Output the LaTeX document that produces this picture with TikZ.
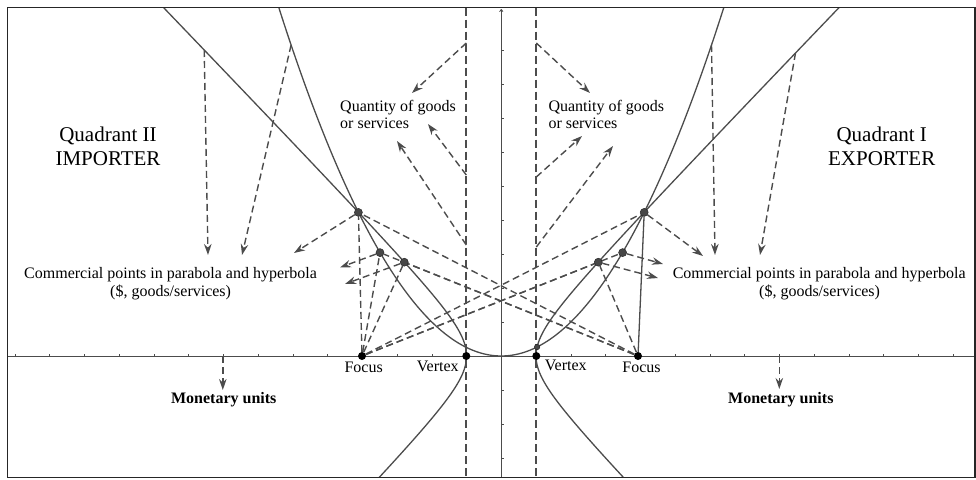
\documentclass[tikz,border=0pt]{standalone}
\usepackage{fontspec}
\setmainfont{Liberation Serif}
\usetikzlibrary{arrows.meta}
\pgfdeclarelayer{bg}
\pgfsetlayers{bg,main}
\colorlet{ink}{black!70}
\begin{document}
\begin{tikzpicture}[x=1pt,y=-1pt,
  curve/.style={draw=ink, line width=1.3pt},
  dl/.style={draw=ink, line width=1.4pt, dash pattern=on 7pt off 4pt},
  da/.style={dl, -{Stealth[length=11pt,width=7.5pt]}},
  vdash/.style={draw=ink, line width=1.8pt, dash pattern=on 8pt off 4pt},
  dot/.style={circle, fill=black!72, draw=black!85, line width=0.5pt, inner sep=0pt, minimum size=8pt},
  bdot/.style={circle, fill=black, inner sep=0pt, minimum size=8pt},
  lbl/.style={font=\fontsize{16}{18}\selectfont, inner sep=0pt, anchor=base},
  blbl/.style={font=\fontsize{16}{18}\selectfont\bfseries, inner sep=0pt, anchor=base},
  qlbl/.style={font=\fontsize{21}{24}\selectfont, inner sep=0pt, anchor=base},
]
\useasboundingbox (0,0) rectangle (976,479);

% points
\node[bdot] (LF) at (362,356) {};
\node[bdot] (RF) at (638,356) {};
\node[bdot] (LV) at (466.3,356) {};
\node[bdot] (RV) at (536.3,356) {};
\node[dot] (LB) at (358.4,212.4) {};
\node[dot] (RB) at (644.2,212.4) {};
\node[dot] (LP) at (380,252.6) {};
\node[dot] (RP) at (622.6,252.6) {};
\node[dot] (LH) at (404.3,262.2) {};
\node[dot] (RH) at (598.3,262.2) {};
\node[dot, minimum size=5.5pt] (RS) at (537.1,347) {};

% free ends
\coordinate (hL) at (204.2,50);
\coordinate (pL) at (291.1,45);
\coordinate (pR) at (711.5,45);
\coordinate (hR) at (795.5,53);
\coordinate (tL1) at (208,255);
\coordinate (tL2) at (242,255);
\coordinate (tR1) at (715,255);
\coordinate (tR2) at (760,255);
\coordinate (aLB) at (294,253);
\coordinate (aLP) at (340,267.5);
\coordinate (aLH) at (345,284);
\coordinate (aRB) at (703,256);
\coordinate (aRP) at (663,264);
\coordinate (aRH) at (658,278);
\coordinate (vL1) at (466.3,43);
\coordinate (vL2) at (466.3,175);
\coordinate (vL3) at (466.3,245);
\coordinate (vR1) at (536.3,43);
\coordinate (vR2) at (536.3,177);
\coordinate (vR3) at (536.3,247);
\coordinate (qL1) at (412,93);
\coordinate (qL2) at (428,124);
\coordinate (qL3) at (397,141);
\coordinate (qR1) at (590,93);
\coordinate (qR2) at (582,136);
\coordinate (qR3) at (613,146);
\coordinate (mL0) at (222.8,356);
\coordinate (mL) at (222.8,390);
\coordinate (mR0) at (779.3,356);
\coordinate (mR) at (779.3,389);
\coordinate (ybot) at (501.3,477.5);
\coordinate (ytop) at (501.3,9);
\coordinate (xl) at (7.5,356);
\coordinate (xr) at (975,356);

\begin{pgfonlayer}{bg}
  % axes
  \draw[ink, line width=0.8pt] (xl) -- (xr);
  \draw[ink, line width=0.8pt, -{To[length=3pt,width=4pt]}] (ybot) -- (ytop);
  \foreach \k in {-14,...,-1,1,2,...,13}
    \draw[ink, line width=0.6pt] ({501.3+34.75*\k},356) -- ++(0,-2.5);
  \foreach \k in {-3,...,-1,1,2,...,9}
    \draw[ink, line width=0.6pt] (501.3,{356-34*\k}) -- ++(2.5,0);
  % curves
  \begin{scope}
    \clip (7.5,7.5) rectangle (975,477.5);
    \draw[curve] plot[domain=-6.6:6.6, samples=120, smooth] ({501.3+34.75*\x},{356-8.5*\x*\x});
    \draw[curve] plot[domain=-2.1:3.1, samples=120, smooth] ({501.3+34.75*cosh(\x)},{356-36.04*sinh(\x)});
    \draw[curve] plot[domain=-2.1:3.1, samples=120, smooth] ({501.3-34.75*cosh(\x)},{356-36.04*sinh(\x)});
  \end{scope}
  % vertical dashed lines through the vertices
  \draw[vdash] (466.3,7.5) -- (LV) -- (466.3,477.5);
  \draw[vdash] (536.3,7.5) -- (RV) -- (536.3,477.5);
  % focus connectors
  \draw[dl] (LF) -- (LB);
  \draw[dl] (LF) -- (LP);
  \draw[dl] (LF) -- (LH);
  \draw[dl] (LF) -- (RB);
  \draw[dl] (LF) -- (RP);
  \draw[dl] (LF) -- (RH);
  \draw[dl] (RF) -- (LB);
  \draw[dl] (RF) -- (LP);
  \draw[dl] (RF) -- (LH);
  \draw[dl] (RF) -- (RH);
  \draw[curve] (RF) -- (RB);
  % arrows to commercial points labels
  \draw[da] (hL) -- (tL1);
  \draw[da] (pL) -- (tL2);
  \draw[da] (LB) -- (aLB);
  \draw[da] (LP) -- (aLP);
  \draw[da] (LH) -- (aLH);
  \draw[da] (pR) -- (tR1);
  \draw[da] (hR) -- (tR2);
  \draw[da] (RB) -- (aRB);
  \draw[da] (RP) -- (aRP);
  \draw[da] (RH) -- (aRH);
  % arrows to quantity labels
  \draw[da] (vL1) -- (qL1);
  \draw[da] (vL2) -- (qL2);
  \draw[da] (vL3) -- (qL3);
  \draw[da] (vR1) -- (qR1);
  \draw[da] (vR2) -- (qR2);
  \draw[da] (vR3) -- (qR3);
  % monetary units arrows
  \draw[da] (mL0) -- (mL);
  \draw[da] (mR0) -- (mR);
\end{pgfonlayer}

% frame
\draw[black!85, line width=1.8pt] (7.5,7.5) rectangle (975,477.5);

% texts
\node[qlbl] (q2a) at (108,141.7) {Quadrant II};
\node[qlbl] (q2b) at (108,165.7) {IMPORTER};
\node[qlbl] (q1a) at (881.7,141.7) {Quadrant I};
\node[qlbl] (q1b) at (881.7,165.7) {EXPORTER};
\node[lbl] (cl1) at (170.6,278.3) {Commercial points in parabola and hyperbola};
\node[lbl] (cl2) at (170.6,296.7) {(\$, goods/services)};
\node[lbl] (cr1) at (819.2,278.3) {Commercial points in parabola and hyperbola};
\node[lbl] (cr2) at (819.6,296.7) {(\$, goods/services)};
\node[lbl, anchor=base west] (ql1) at (340,111.7) {Quantity of goods};
\node[lbl, anchor=base west] (ql2) at (340,128.3) {or services};
\node[lbl, anchor=base west] (qr1) at (548.3,111.7) {Quantity of goods};
\node[lbl, anchor=base west] (qr2) at (548.3,128.3) {or services};
\node[lbl] (fl) at (363.7,372.7) {Focus};
\node[lbl] (fr) at (641.5,372.7) {Focus};
\node[lbl] (vl) at (437.8,371) {Vertex};
\node[lbl] (vr) at (565.8,370) {Vertex};
\node[blbl] (ml) at (223.8,403.3) {Monetary units};
\node[blbl] (mr) at (780.8,403.3) {Monetary units};
\end{tikzpicture}
\end{document}
